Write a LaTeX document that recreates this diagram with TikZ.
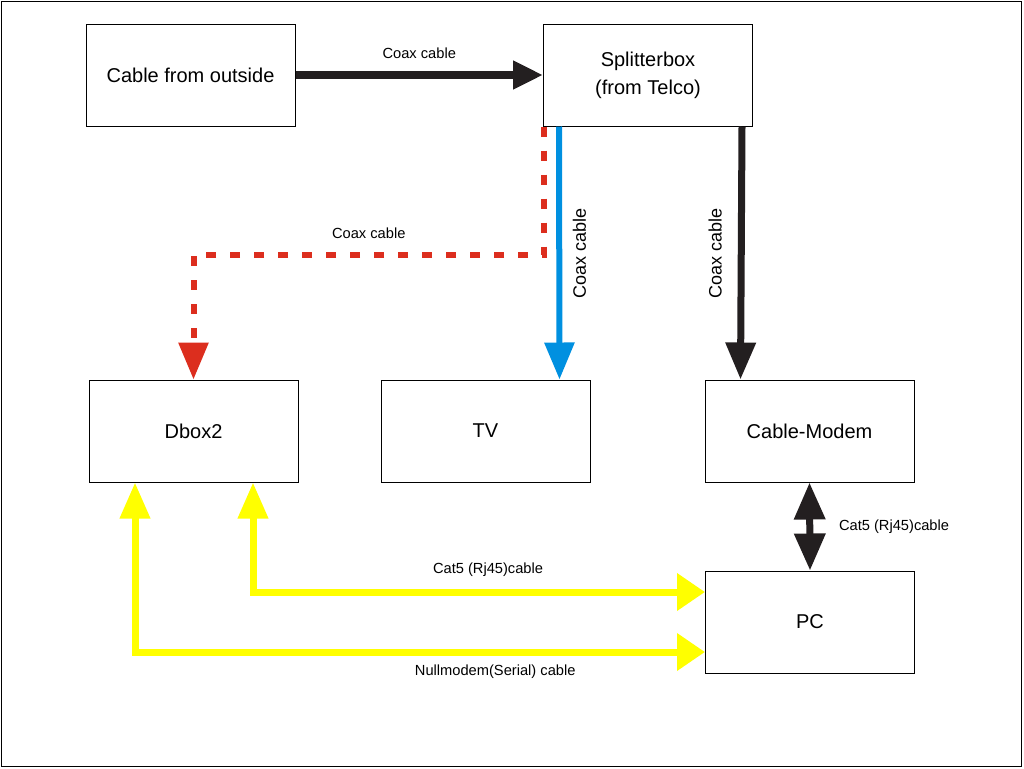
\documentclass[tikz,border=0pt]{standalone}
\usepackage{fontspec}
\setmainfont{Liberation Sans}
\usetikzlibrary{arrows.meta,calc}
\definecolor{coaxred}{RGB}{220,46,30}
\definecolor{coaxblue}{RGB}{0,144,224}
\definecolor{catyellow}{RGB}{255,255,0}
\definecolor{cableblack}{RGB}{35,31,32}
\tikzset{
    device/.style={draw,line width=0.75pt,minimum width=156.75pt,minimum height=76.5pt,
        align=center,font=\fontsize{15}{21}\selectfont},
    lbl/.style={text=black,font=\fontsize{11}{13}\selectfont},
    vlbl/.style={lbl,font=\fontsize{13.5}{15}\selectfont,rotate=90},
    coax/.style={line width=4.5pt,-{Triangle[length=27.75pt,width=21.75pt]}},
    feed/.style={line width=6pt,cableblack,-{Triangle[length=22.5pt,width=20.25pt]}},
    redcab/.style={coax,coaxred,dash pattern=on 7.5pt off 10.5pt},
    catcab/.style={line width=5.25pt,catyellow,
        {Triangle[length=27pt,width=21.75pt]}-{Triangle[length=21pt,width=27pt]}}
}
\newcommand{\device}[4]{
    \node[device] (#1) at (#2,#3) {#4};
}

\begin{document}
\begin{tikzpicture}[x=0.75pt,y=-0.75pt]
            \useasboundingbox (0,0) rectangle (1024,768);
            \draw[line width=0.75pt] (1,1) rectangle (1021,766);
            \device{outside}{190.5}{75}{Cable from outside}
            \device{splitter}{648}{75}{Splitterbox\\(from Telco)}
            \device{dbox}{193.5}{431}{Dbox2}
            \device{tv}{485.5}{431}{TV}
            \device{modem}{809.5}{431}{Cable-Modem}
            \device{pc}{810}{622}{PC}
            \draw[feed] (outside) -- (splitter) node[midway,above=6pt,lbl] {Coax cable};
            \draw[redcab] ($(splitter.south west)+(1,0)$) -- ++(0,128) -| (dbox.north) node[pos=0.25,above=6pt,lbl] {Coax cable};
            \draw[coax,coaxblue] ($(splitter.south west)+(16,0)$) -- ($(tv.north east)+(-31,0)$) node[midway,vlbl,anchor=north,inner ysep=8pt] {Coax cable};
            \draw[coax,cableblack,line width=5.25pt] ($(splitter.south east)+(-11,0)$) -- ($(modem.north west)+(36,0)$) node[midway,vlbl,anchor=south,inner ysep=12pt] {Coax cable};
            \draw[line width=5.25pt,cableblack,{Triangle[length=27.75pt,width=22.5pt]}-{Triangle[length=27.75pt,width=22.5pt]}] (modem.south) -- (pc.north) node[midway,right=16pt,lbl] {Cat5 (Rj45)cable};
            \draw[catcab] ($(dbox.south)+(59.5,0)$) |- ($(pc.west)+(0,-30)$) node[pos=0.76,above=6pt,lbl] {Cat5 (Rj45)cable};
            \draw[catcab] ($(dbox.south)+(-58.5,0)$) |- ($(pc.west)+(0,30)$) node[pos=0.816,below=4pt,lbl] {Nullmodem(Serial) cable};
        \end{tikzpicture}
\end{document}
